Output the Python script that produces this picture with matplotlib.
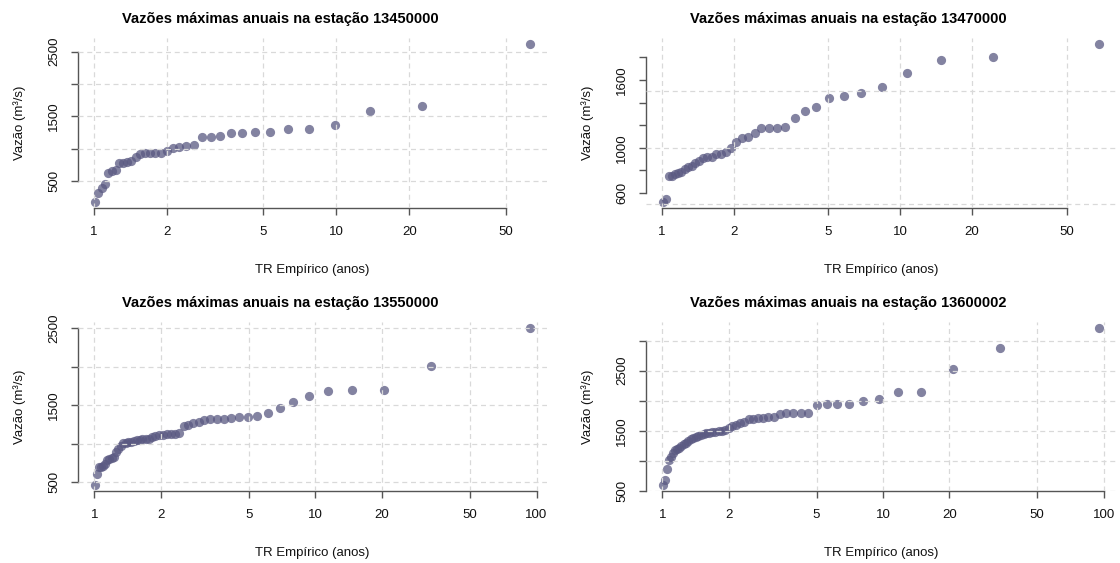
import matplotlib.pyplot as plt
import numpy as np

plt.rcParams['font.family'] = ['Liberation Sans', 'DejaVu Sans']

# Empirical return period (anos) and annual maximum flow (m3/s) per station
estacoes = ["13450000", "13470000", "13550000", "13600002"]

tr1 = [1.016, 1.046, 1.079, 1.113, 1.149, 1.188, 1.230, 1.274, 1.322, 1.374,
       1.430, 1.491, 1.557, 1.629, 1.708, 1.796, 1.892, 2.000, 2.121, 2.257,
       2.412, 2.590, 2.796, 3.038, 3.326, 3.674, 4.103, 4.646, 5.354, 6.317,
       7.702, 9.865, 13.72, 22.51, 62.71]
q1 = [179, 319, 387, 450, 616, 648, 674, 777, 777, 788,
      803, 865, 917, 933, 933, 933, 935, 969, 1005, 1021,
      1045, 1050, 1176, 1176, 1192, 1238, 1248, 1264, 1264, 1310,
      1310, 1373, 1575, 1664, 2614]

tr2 = [1.015, 1.043, 1.072, 1.103, 1.136, 1.170, 1.207, 1.247, 1.289, 1.334,
       1.383, 1.435, 1.491, 1.552, 1.618, 1.690, 1.768, 1.854, 1.949, 2.054,
       2.171, 2.302, 2.450, 2.618, 2.811, 3.035, 3.298, 3.610, 3.987, 4.453,
       5.040, 5.800, 6.856, 8.360, 10.71, 14.89, 24.44, 68.07]
q2 = [523, 547, 748, 748, 766, 775, 784, 813, 828, 837,
      867, 887, 911, 917, 923, 941, 947, 967, 997, 1050,
      1086, 1095, 1130, 1175, 1175, 1178, 1184, 1264, 1329, 1361,
      1439, 1459, 1489, 1542, 1658, 1776, 1800, 1916]

tr3 = [1.011, 1.031, 1.052, 1.073, 1.096, 1.119, 1.144, 1.170, 1.197, 1.225,
       1.254, 1.285, 1.318, 1.352, 1.388, 1.426, 1.466, 1.508, 1.553, 1.601,
       1.651, 1.706, 1.763, 1.825, 1.891, 1.962, 2.039, 2.122, 2.212, 2.310,
       2.417, 2.535, 2.665, 2.808, 2.968, 3.147, 3.350, 3.580, 3.844, 4.150,
       4.509, 4.936, 5.452, 6.089, 6.894, 7.945, 9.374, 11.43, 14.64, 20.36,
       33.41, 93.07]
q3 = [470, 608, 695, 703, 716, 734, 790, 803, 820, 833,
      898, 929, 976, 1011, 1015, 1019, 1028, 1037, 1045, 1054,
      1058, 1063, 1067, 1089, 1106, 1110, 1119, 1128, 1132, 1132,
      1136, 1232, 1240, 1275, 1288, 1310, 1318, 1318, 1318, 1331,
      1350, 1355, 1368, 1404, 1460, 1545, 1620, 1688, 1695, 1700,
      2006, 2500]

tr4 = [1.011, 1.030, 1.051, 1.072, 1.094, 1.117, 1.141, 1.166, 1.192, 1.219,
       1.248, 1.278, 1.310, 1.343, 1.377, 1.414, 1.453, 1.494, 1.537, 1.583,
       1.631, 1.683, 1.738, 1.797, 1.860, 1.927, 2.000, 2.078, 2.163, 2.255,
       2.355, 2.464, 2.584, 2.716, 2.862, 3.025, 3.208, 3.414, 3.648, 3.917,
       4.229, 4.595, 5.030, 5.556, 6.206, 7.026, 8.098, 9.554, 11.65, 14.92,
       20.75, 34.05, 94.86]
q4 = [600, 678, 861, 1011, 1067, 1133, 1178, 1194, 1217, 1244,
      1272, 1300, 1328, 1356, 1372, 1400, 1417, 1433, 1444, 1456,
      1467, 1472, 1483, 1500, 1500, 1511, 1550, 1583, 1589, 1622,
      1650, 1689, 1700, 1717, 1717, 1733, 1733, 1778, 1789, 1789,
      1789, 1795, 1935, 1940, 1940, 1940, 1989, 2027, 2137, 2137,
      2528, 2878, 3206]

# y ticks and which of them carry a label (R drops overlapping ones)
yticks1 = [500, 1000, 1500, 2000, 2500]
ylabs1 = ['500', '', '1500', '', '2500']
yticks2 = [600, 800, 1000, 1200, 1400, 1600, 1800]
ylabs2 = ['600', '', '1000', '', '', '1600', '']
yticks4 = [500, 1000, 1500, 2000, 2500, 3000]
ylabs4 = ['500', '', '1500', '', '2500', '']
xticks_a = [1, 2, 5, 10, 20, 50]
xticks_b = [1, 2, 5, 10, 20, 50, 100]
ygrid = [500, 1000, 1500, 2000, 2500, 3000]

paineis = [
    (tr1, q1, yticks1, ylabs1, xticks_a),
    (tr2, q2, yticks2, ylabs2, xticks_a),
    (tr3, q3, yticks1, ylabs1, xticks_b),
    (tr4, q4, yticks4, ylabs4, xticks_b),
]

W, H = 1120, 563
fig = plt.figure(figsize=(W / 100, H / 100), dpi=100)

# plot regions in pixels: left, top, right, bottom
regioes = [(78, 38, 547, 208), (646, 38, 1116, 208),
           (78, 322, 547, 491), (646, 322, 1116, 491)]

axcol = '#555555'
ptcol = '#5a5982'

for i, (tr, q, yt, yl, xt) in enumerate(paineis):
    l, t, r, b = regioes[i]
    ax = fig.add_axes([l / W, 1 - b / H, (r - l) / W, (b - t) / H])
    ax.set_xscale('log')

    ax.scatter(tr, q, s=44, color=ptcol, alpha=0.75, linewidths=0, zorder=2)

    # R style 4% padding
    lx = np.log10(tr)
    px = (lx.max() - lx.min()) * 0.04
    ax.set_xlim(10 ** (lx.min() - px), 10 ** (lx.max() + px))
    py = (max(q) - min(q)) * 0.04
    ax.set_ylim(min(q) - py, max(q) + py)

    for g in xt:
        ax.axvline(g, color='#d9d9d9', lw=0.9, ls=(0, (4, 3)), zorder=3)
    for g in ygrid:
        ax.axhline(g, color='#d9d9d9', lw=0.9, ls=(0, (4, 3)), zorder=3)

    ax.set_xticks(xt)
    ax.set_xticklabels([str(v) for v in xt])
    ax.xaxis.set_minor_locator(plt.NullLocator())
    ax.set_yticks(yt)
    ax.set_yticklabels(yl, rotation=90, va='center')

    for s in ['top', 'right']:
        ax.spines[s].set_visible(False)
    ax.spines['left'].set_bounds(yt[0], yt[-1])
    ax.spines['bottom'].set_bounds(xt[0], xt[-1])
    for s in ['left', 'bottom']:
        ax.spines[s].set_color(axcol)
        ax.spines[s].set_linewidth(1.0)

    ax.tick_params(axis='both', length=5, width=1.0, color=axcol,
                   labelsize=9.5, labelcolor='#111111', pad=8)
    ax.patch.set_alpha(0)

    ax.set_title('Vazões máximas anuais na estação ' + estacoes[i],
                 fontsize=10.5, fontweight='bold', pad=11, x=0.431)
    ax.set_xlabel('TR Empírico (anos)', fontsize=9.5, color='#111111',
                  labelpad=19)
    ax.set_ylabel('Vazão (m³/s)', fontsize=9.5, color='#111111', labelpad=16)

fig.savefig('out.png', dpi=100)
